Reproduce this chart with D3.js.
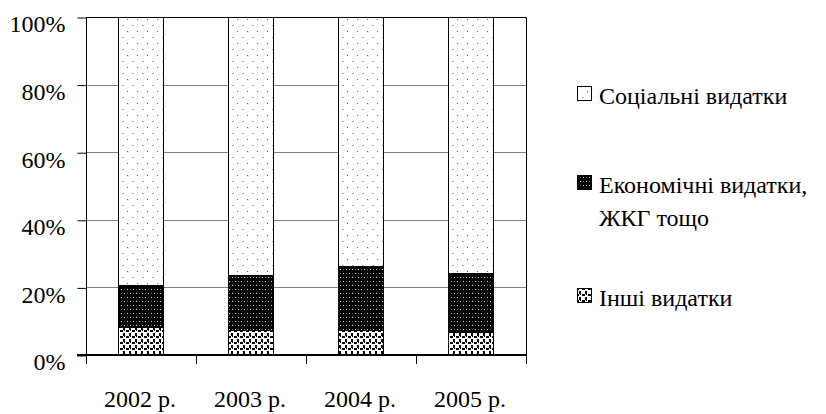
<!DOCTYPE html>
<html>
<head>
<meta charset="utf-8">
<script src="https://cdn.jsdelivr.net/npm/d3@7"></script>
</head>
<body style="margin:0">
<svg id="budget" width="826" height="414"></svg>
<script>
// Structure of budget expenditures, share of total (%)
const years = ["2002 р.", "2003 р.", "2004 р.", "2005 р."];
const otherSpending = [8.3, 7.4, 7.3, 6.9];
const economicSpending = [12.4, 16.2, 19.0, 17.4];
const socialSpending = years.map((_, i) => +(100 - otherSpending[i] - economicSpending[i]).toFixed(1));
const yTicks = [0, 20, 40, 60, 80, 100];

const seriesKeys = ["other", "economic", "social"];
const legendItems = [
  { key: "social", lines: ["Соціальні видатки"] },
  { key: "economic", lines: ["Економічні видатки,", "ЖКГ тощо"] },
  { key: "other", lines: ["Інші видатки"] }
];

const FONT = "\"Liberation Serif\"";
const FONT_SIZE = "24px";

function serif(sel) {
  sel.style("font-family", FONT, "important").style("font-size", FONT_SIZE, "important");
}

const rows = years.map((y, i) => ({
  year: y,
  other: otherSpending[i],
  economic: economicSpending[i],
  social: socialSpending[i]
}));

const svg = d3.select("#budget");
const plot = { left: 86, right: 526, top: 17, bottom: 355 };

const x = d3.scaleBand()
  .domain(years)
  .range([plot.left, plot.right])
  .paddingInner(0.59)
  .paddingOuter(0.295);

const y = d3.scaleLinear().domain([0, 100]).range([plot.bottom, plot.top]);

// Fill patterns for the three expenditure groups
const defs = svg.append("defs");
function dots(p, list) {
  list.forEach(([px, py, w, h, c]) =>
    p.append("rect").attr("x", px).attr("y", py).attr("width", w).attr("height", h).attr("fill", c));
}

const pSocial = defs.append("pattern").attr("id", "pat-social")
  .attr("patternUnits", "userSpaceOnUse").attr("width", 10).attr("height", 12);
dots(pSocial, [[0, 0, 10, 12, "#fff"], [2, 1, 2, 1, "#aaa"], [7, 7, 1, 1, "#666"]]);

const pEcon = defs.append("pattern").attr("id", "pat-economic")
  .attr("patternUnits", "userSpaceOnUse").attr("width", 6).attr("height", 8);
dots(pEcon, [[0, 0, 6, 8, "#000"], [1, 1, 1, 1, "#ddd"], [4, 5, 1, 1, "#ddd"],
             [4, 1, 1, 1, "#666"], [1, 5, 1, 1, "#666"]]);

const pOther = defs.append("pattern").attr("id", "pat-other")
  .attr("patternUnits", "userSpaceOnUse").attr("width", 6).attr("height", 6);
dots(pOther, [[0, 0, 6, 6, "#fff"], [0, 0, 3, 2, "#000"], [3, 3, 2, 3, "#000"], [4, 0, 1, 1, "#000"]]);

const fills = { social: "url(#pat-social)", economic: "url(#pat-economic)", other: "url(#pat-other)" };

// Gridlines
svg.append("g")
  .selectAll("line")
  .data(yTicks.filter(t => t > 0 && t < 100))
  .join("line")
  .attr("x1", plot.left).attr("x2", plot.right)
  .attr("y1", d => Math.round(y(d)) + 0.5).attr("y2", d => Math.round(y(d)) + 0.5)
  .attr("stroke", "#808080").attr("stroke-width", 1);

// Stacked bars
const stacked = d3.stack().keys(seriesKeys)(rows);
svg.append("g")
  .selectAll("g")
  .data(stacked)
  .join("g")
  .attr("fill", d => fills[d.key])
  .selectAll("rect")
  .data(d => d)
  .join("rect")
  .attr("x", d => Math.round(x(d.data.year)) + 0.5)
  .attr("y", d => Math.round(y(d[1])) + 0.5)
  .attr("width", Math.round(x.bandwidth()))
  .attr("height", d => Math.round(y(d[0])) - Math.round(y(d[1])))
  .attr("stroke", "#000").attr("stroke-width", 1);

// Plot frame: top, left and right edges
svg.append("path")
  .attr("d", `M${plot.left + 0.5},${plot.bottom}V${plot.top + 0.5}H${plot.right + 0.5}V${plot.bottom}`)
  .attr("fill", "none").attr("stroke", "#000").attr("stroke-width", 1);

// Y axis ticks and labels
const yAxis = d3.axisLeft(y).tickValues(yTicks).tickSize(9).tickPadding(12)
  .tickFormat(d => d + "%");
const gy = svg.append("g").attr("transform", `translate(${plot.left + 0.5},0.5)`).call(yAxis);
gy.attr("font-family", null).attr("font-size", null);
gy.select(".domain").remove();
gy.selectAll(".tick line").attr("stroke", "#000");
gy.selectAll(".tick text")
  .attr("dy", "0.6em")
  .attr("fill", "#000")
  .call(serif);

// X axis baseline
svg.append("line")
  .attr("x1", plot.left - 9).attr("x2", plot.right + 1)
  .attr("y1", plot.bottom).attr("y2", plot.bottom)
  .attr("stroke", "#000").attr("stroke-width", 2);

// Category boundary ticks below the baseline
const boundaries = d3.range(years.length + 1).map(i => plot.left + i * x.step());
svg.append("g").selectAll("line")
  .data(boundaries)
  .join("line")
  .attr("x1", d => Math.round(d) + 0.5).attr("x2", d => Math.round(d) + 0.5)
  .attr("y1", plot.bottom).attr("y2", plot.bottom + 9)
  .attr("stroke", "#000");

// Category labels
svg.append("g").selectAll("text")
  .data(years)
  .join("text")
  .attr("x", d => x(d) + x.bandwidth() / 2 - 1)
  .attr("y", 407)
  .attr("text-anchor", "middle")
  .call(serif)
  .text(d => d);

// Legend
const legendY = { social: 104, economic: 193, other: 306 };
const lg = svg.append("g");
legendItems.forEach(item => {
  const by = legendY[item.key];
  lg.append("rect")
    .attr("x", 577.5).attr("y", by - 17.5)
    .attr("width", 14).attr("height", 14)
    .attr("fill", fills[item.key])
    .attr("stroke", "#000").attr("stroke-width", 1);
  item.lines.forEach((line, i) => {
    lg.append("text").attr("x", 599).attr("y", by + i * 33)
      .call(serif)
      .text(line);
  });
});
</script>
</body>
</html>
